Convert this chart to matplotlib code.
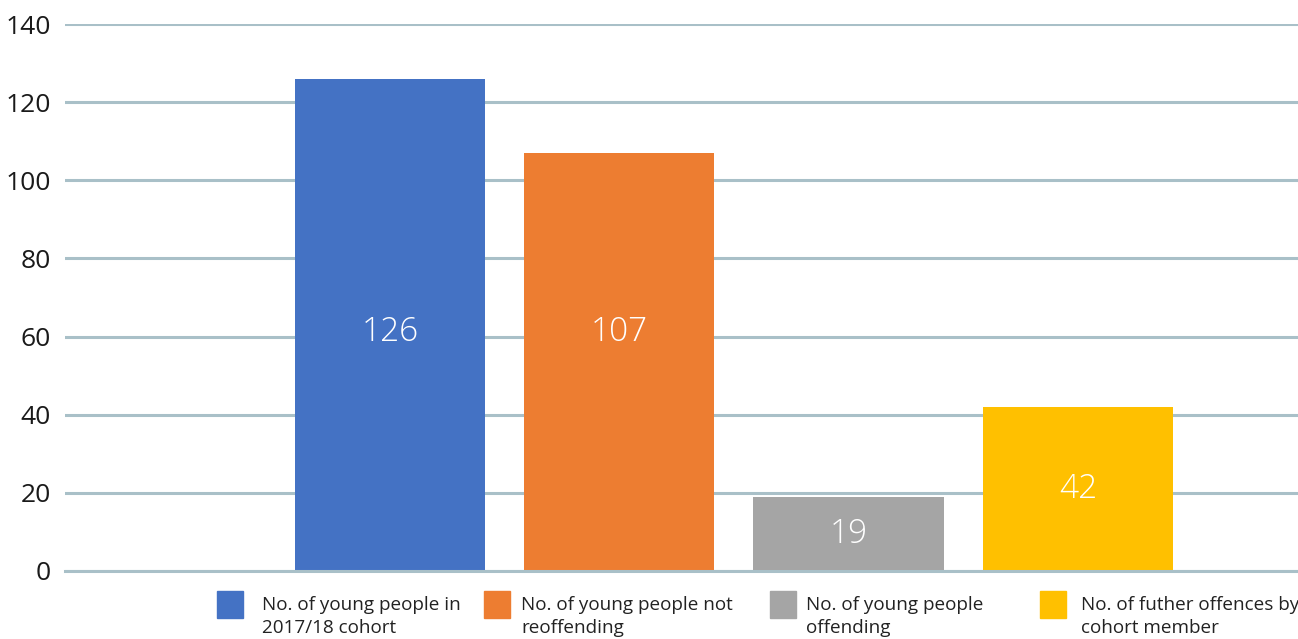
import matplotlib
matplotlib.use("Agg")
import matplotlib.pyplot as plt
from matplotlib.patches import Rectangle
import numpy as np

categories = ["No. of young people in\n2017/18 cohort",
              "No. of young people not\nreoffending",
              "No. of young people\noffending",
              "No. of futher offences by\ncohort member"]
values = [126, 107, 19, 42]
colors = ["#4472C4", "#ED7D31", "#A5A5A5", "#FFC000"]
yticks = [0, 20, 40, 60, 80, 100, 120, 140]

plt.rcParams['font.family'] = ['Open Sans', 'DejaVu Sans']
W, H = 1298, 639
fig = plt.figure(figsize=(W/100, H/100), dpi=100)
ax = fig.add_axes([65/W, (H-571)/H, 1233/W, 547/H])

x = np.arange(len(values))
bars = ax.bar(x, values, width=0.83, color=colors, zorder=2)
# value labels: centred in short bars, at a common level in tall bars
for xi, v in zip(x, values):
    ax.text(xi, v / 2 if v < 60 else 61, str(v), ha='center', va='center',
            color='white', fontsize=24, fontweight='light', zorder=4)

ax.set_ylim(0, 140)
ax.set_xlim(-1.417, 3.96)
ax.set_yticks(yticks)
ax.set_yticklabels([str(t) for t in yticks], fontsize=19, color='#1a1a1a')
ax.tick_params(axis='y', length=0, pad=10)
ax.set_xticks([])
for s in ax.spines.values():
    s.set_visible(False)
ax.grid(axis='y', color='#A9C0C8', linewidth=2.2, zorder=1)
ax.set_axisbelow(True)
ax.axhline(0, color='#A9C0C8', linewidth=2.2, zorder=3, clip_on=False)

# legend (manual)
sq_x = [217, 484, 770, 1040]
tx_x = [262, 521, 806, 1081]
for i in range(len(categories)):
    fig.add_artist(Rectangle((sq_x[i]/W, (H-618)/H), 26/W, 27/H,
                             transform=fig.transFigure, color=colors[i]))
    fig.text(tx_x[i]/W, (H-596)/H, categories[i], fontsize=13.6,
             color='#222222', va='top', ha='left', linespacing=1.35)

fig.savefig("out.png", dpi=100)
